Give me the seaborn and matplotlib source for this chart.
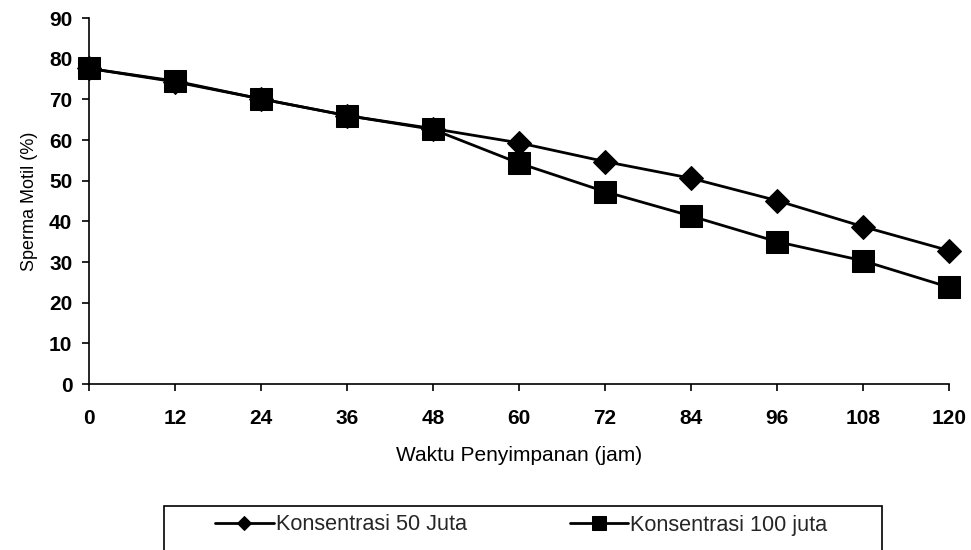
import matplotlib
matplotlib.use("Agg")
import matplotlib.pyplot as plt
import seaborn as sns
import pandas as pd
from matplotlib.patches import Rectangle

jam = [0, 12, 24, 36, 48, 60, 72, 84, 96, 108, 120]
konsentrasi_50 = [77.6, 74.3, 70.1, 66.0, 62.8, 59.3, 54.7, 50.6, 45.1, 38.7, 32.8]
konsentrasi_100 = [77.6, 74.5, 70.1, 66.0, 62.6, 54.3, 47.3, 41.3, 35.0, 30.3, 23.8]
label_50 = "Konsentrasi 50 Juta"
label_100 = "Konsentrasi 100 juta"
x_ticks = jam
y_ticks = [0, 10, 20, 30, 40, 50, 60, 70, 80, 90]

sns.set_theme(style="ticks")
plt.rcParams['font.family'] = ['Liberation Sans', 'DejaVu Sans']

df50 = pd.DataFrame({"jam": jam, "motil": konsentrasi_50, "seri": label_50})
df100 = pd.DataFrame({"jam": jam, "motil": konsentrasi_100, "seri": label_100})

fig = plt.figure(figsize=(9.71, 5.5), dpi=100)
ax = fig.add_axes([89/971, 1-384/550, (949-89)/971, (384-18)/550])

sns.lineplot(data=df50, x="jam", y="motil", ax=ax, color="black", marker="D",
             markersize=12.5, markeredgecolor="black", linewidth=2.0, label=label_50,
             clip_on=False, zorder=3)
sns.lineplot(data=df100, x="jam", y="motil", ax=ax, color="black", marker="s",
             markersize=16.5, markeredgecolor="black", linewidth=2.0, label=label_100,
             clip_on=False, zorder=4)

ax.set_xlim(0, 120)
ax.set_ylim(0, 90)
ax.set_xticks(x_ticks)
ax.set_yticks(y_ticks)
ax.tick_params(axis="both", direction="out", length=5, width=1.2, colors="black",
               labelsize=15)
ax.tick_params(axis="x", pad=13)
ax.tick_params(axis="y", pad=7)
for lab in ax.get_xticklabels() + ax.get_yticklabels():
    lab.set_fontweight("bold")
for s in ["top", "right"]:
    ax.spines[s].set_visible(False)
for s in ["left", "bottom"]:
    ax.spines[s].set_color("black")
    ax.spines[s].set_linewidth(1.2)

ax.set_xlabel("Waktu Penyimpanan (jam)", fontsize=15, labelpad=13, color="black")
ax.set_ylabel("Sperma Motil (%)", fontsize=13, labelpad=8, color="black")

handles, labels = ax.get_legend_handles_labels()
ax.get_legend().remove()
fig.add_artist(Rectangle((164/971, -0.05), (882-164)/971, 0.05 + (1-506/550),
                         transform=fig.transFigure, fill=False, edgecolor="black",
                         linewidth=1.2))
fig.legend(handles, labels, loc="center left", bbox_to_anchor=(215/971, 1-525/550),
           ncol=2, frameon=False, fontsize=15.6, handlelength=2.7, handletextpad=0.1,
           columnspacing=4.75, markerscale=0.6, borderaxespad=0, borderpad=0)

fig.savefig("out.png", dpi=100)
